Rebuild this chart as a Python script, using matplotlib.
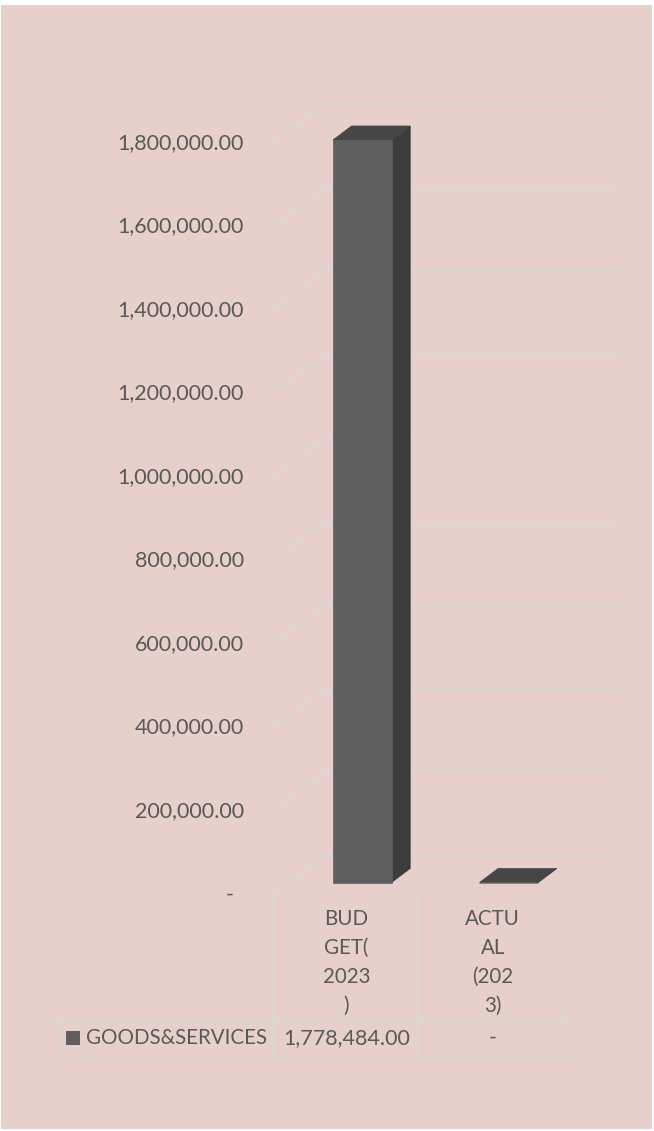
import matplotlib.pyplot as plt
from matplotlib.patches import Polygon, Rectangle
from matplotlib.transforms import IdentityTransform, offset_copy

# data
categories = ["BUDGET(2023)", "ACTUAL (2023)"]
cat_lines = [["BUD", "GET(", "2023", ")"], ["ACTU", "AL", "(202", "3)"]]
series_name = "GOODS&SERVICES"
values = [1778484.00, 0.0]
yticks = [0, 200000, 400000, 600000, 800000, 1000000, 1200000, 1400000, 1600000, 1800000]

W, H = 654, 1131
txt = "#595959"
grid = "#D9D9D9"
bg = "#E7D0CC"
fs_num = 15.5
fs_txt = 14.8
plt.rcParams['font.family'] = ['Lato', 'DejaVu Sans']

fig = plt.figure(figsize=(W / 100, H / 100), dpi=100)
fig.patch.set_facecolor("white")
fig.add_artist(Rectangle((1 / W, 2 / H), 651 / W, 1124 / H, transform=fig.transFigure,
                         facecolor=bg, edgecolor="none", zorder=0))

# front plane of the 3d box
y0, y1 = 894.5, 143
ax = fig.add_axes([273 / W, (H - y0) / H, 293 / W, (y0 - y1) / H])
ax.set_xlim(-0.5, 1.5)
ax.set_ylim(0, 1800000)
ax.axis("off")
ax.patch.set_visible(False)

# depth in pixels (oblique projection)
DEPTH = 39
DX = 52 / 39
px = IdentityTransform()


def pt(x, v, d):
    p = ax.transData.transform((x, v))
    return (p[0] + d * DX, p[1] + d)


# gridlines: short diagonal on the side wall + line on the back wall
for v in yticks:
    a, b, c = pt(-0.5, v, 0), pt(-0.5, v, DEPTH), pt(1.5, v, DEPTH)
    ax.plot([a[0], b[0], c[0]], [a[1], b[1], c[1]], color=grid, lw=1.3,
            transform=px, clip_on=False, zorder=1)
    if v == 0:
        lab, off, ha = "-", -43, "center"
    else:
        lab, off, ha = f"{v:,.2f}", -29, "right"
    ax.text(-0.5, v, lab, transform=offset_copy(ax.transData, fig, x=off, y=0, units="dots"),
            ha=ha, va="center", fontsize=fs_num, color=txt)

# bars
bw = 0.4
d0, d1 = 12, 26
for i, v in enumerate(values):
    l, r = i - bw / 2, i + bw / 2
    front = [pt(l, 0, d0), pt(r, 0, d0), pt(r, v, d0), pt(l, v, d0)]
    side = [pt(r, 0, d0), pt(r, 0, d1), pt(r, v, d1), pt(r, v, d0)]
    top = [pt(l, v, d0), pt(r, v, d0), pt(r, v, d1), pt(l, v, d1)]
    for poly, col in [(side, "#3C3C3C"), (front, "#5F5F5F"), (top, "#464646")]:
        ax.add_patch(Polygon(poly, closed=True, facecolor=col, edgecolor=col, lw=0.5,
                             transform=px, clip_on=False, zorder=3))

# data table
def fy(y):
    return (H - y) / H


def fx(x):
    return x / W


col_x = [ax.transData.transform((i, 0))[0] for i in range(len(categories))]
edges = [ax.transData.transform((e, 0))[0] for e in (-0.5, 0.5, 1.5)]
for e in edges:
    fig.add_artist(plt.Line2D([fx(e), fx(e)], [fy(895), fy(1058)], color=grid, lw=1.3))
fig.add_artist(plt.Line2D([fx(58), fx(58)], [fy(1020), fy(1058)], color=grid, lw=1.3))
for yy in (1020, 1058):
    fig.add_artist(plt.Line2D([fx(58), fx(edges[-1])], [fy(yy), fy(yy)], color=grid, lw=1.3))

for i, lines in enumerate(cat_lines):
    for k, s in enumerate(lines):
        fig.text(fx(col_x[i]), fy(919 + 29 * k), s, ha="center", va="center",
                 fontsize=fs_txt, color=txt)

fig.add_artist(Rectangle((fx(66), fy(1045)), 14 / W, 14 / H, transform=fig.transFigure,
                         facecolor="#5F5F5F", edgecolor="none"))
fig.text(fx(86), fy(1038), series_name, ha="left", va="center", fontsize=fs_txt, color=txt)
for i, v in enumerate(values):
    s = f"{v:,.2f}" if v else "-"
    fig.text(fx(col_x[i]), fy(1038), s, ha="center", va="center", fontsize=fs_num, color=txt)

fig.savefig("out.png", dpi=100, facecolor=fig.get_facecolor())
